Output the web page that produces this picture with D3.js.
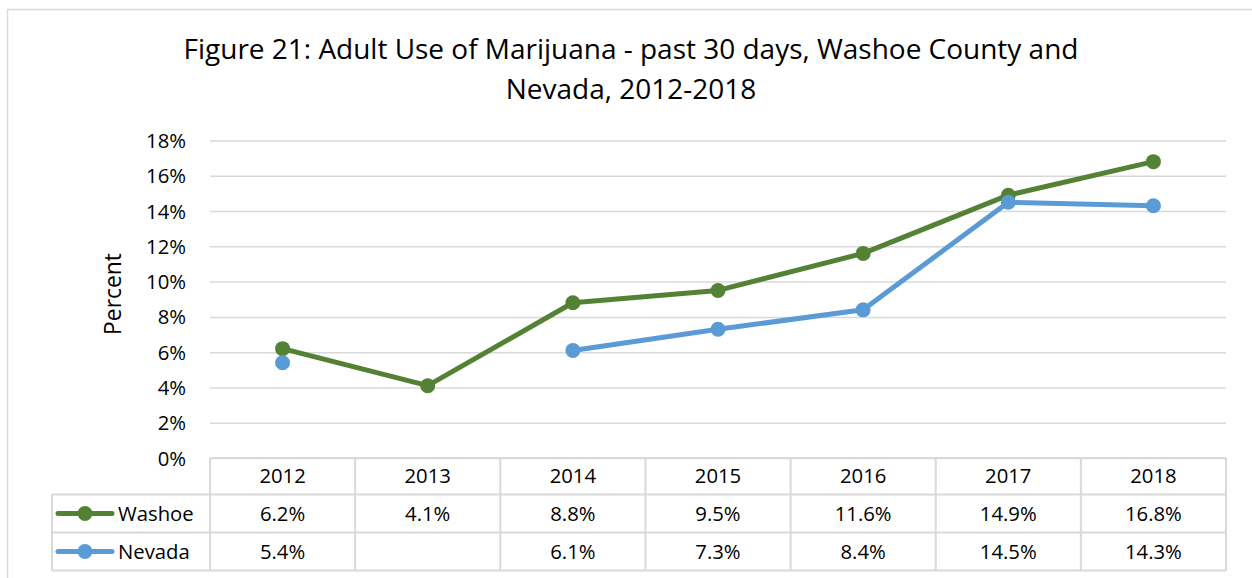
<!DOCTYPE html>
<html><head><meta charset="utf-8">
<script src="https://cdn.jsdelivr.net/npm/d3@7/dist/d3.min.js"></script>
<style>body{margin:0;background:#fff}svg{display:block}</style>
</head><body><svg id="c" width="1252" height="578"></svg>
<script>
const years = ["2012","2013","2014","2015","2016","2017","2018"];
const washoe = [6.2, 4.1, 8.8, 9.5, 11.6, 14.9, 16.8];
const nevada = [5.4, null, 6.1, 7.3, 8.4, 14.5, 14.3];
const yTicks = [0,2,4,6,8,10,12,14,16,18];
const seriesNames = ["Washoe","Nevada"];
const colors = ["#548235","#5B9BD5"];
const titleLines = ["Figure 21: Adult Use of Marijuana - past 30 days, Washoe County and","Nevada, 2012-2018"];

const svg = d3.select("#c");
const font = "'Open Sans', sans-serif";
const fs = 20.3;
const L = 210, R = 1226, T = 140.5, B = 458;
const x = d3.scaleBand().domain(years).range([L, R]);
const y = d3.scaleLinear().domain([0,18]).range([B, T]);

function fit(sel, target, base){
  const w = sel.node().getComputedTextLength();
  sel.attr("font-size", base*target/w);
}

// chart border
svg.append("rect").attr("x",7.5).attr("y",9.5).attr("width",1260).attr("height",600)
  .attr("fill","none").attr("stroke","#d9d9d9").attr("stroke-width",1.5);

// title
const tt = svg.append("g").selectAll("text").data(titleLines).join("text")
  .attr("x",631).attr("y",(d,i)=>59+i*40).attr("text-anchor","middle")
  .attr("font-family",font).attr("font-size",28).attr("fill","#000").text(d=>d);
const t0 = d3.select(tt.nodes()[0]);
const w0 = t0.node().getComputedTextLength();
tt.attr("font-size", 28*895/w0);

// gridlines
const yAxis = d3.axisLeft(y).tickValues(yTicks).tickSize(-(R-L)).tickFormat(d=>d+"%");
const gy = svg.append("g").attr("transform",`translate(${L},0)`).call(yAxis);
gy.select(".domain").remove();
gy.selectAll(".tick line").attr("stroke","#d9d9d9").attr("stroke-width",1.5);
gy.selectAll(".tick text").attr("x",-24).attr("dy","0.35em").attr("font-family",font).attr("font-size",fs).attr("fill","#000");

// y label
const yl = svg.append("text").attr("transform","translate(121,294) rotate(-90)").attr("text-anchor","middle")
  .attr("font-family",font).attr("font-size",22).attr("fill","#000").text("Percent");
fit(yl, 82, 22);

// lines
const data = [washoe, nevada];
data.forEach((vals,si)=>{
  const line = d3.line().defined(d=>d!=null).x((d,i)=>x(years[i])+x.bandwidth()/2).y(d=>y(d));
  svg.append("path").datum(vals).attr("d",line).attr("fill","none")
    .attr("stroke",colors[si]).attr("stroke-width",5).attr("stroke-linejoin","round");
  svg.append("g").selectAll("circle").data(vals.map((v,i)=>({v,i})).filter(d=>d.v!=null)).join("circle")
    .attr("cx",d=>x(years[d.i])+x.bandwidth()/2).attr("cy",d=>y(d.v)).attr("r",7.5).attr("fill",colors[si]);
});

// data table
const rowH = [458, 494.5, 532.5, 570.5];
const tL = 52;
const g = svg.append("g");
const gridC = "#d9d9d9";
g.append("line").attr("x1",L).attr("x2",R).attr("y1",rowH[0]).attr("y2",rowH[0]).attr("stroke",gridC).attr("stroke-width",2);
[1,2,3].forEach(k=>g.append("line").attr("x1",tL).attr("x2",R).attr("y1",rowH[k]).attr("y2",rowH[k]).attr("stroke",gridC).attr("stroke-width",2));
g.append("line").attr("x1",tL).attr("x2",tL).attr("y1",rowH[1]).attr("y2",rowH[3]).attr("stroke",gridC).attr("stroke-width",2);
years.forEach(yr=>g.append("line").attr("x1",x(yr)).attr("x2",x(yr)).attr("y1",rowH[0]).attr("y2",rowH[3]).attr("stroke",gridC).attr("stroke-width",2));
g.append("line").attr("x1",R).attr("x2",R).attr("y1",rowH[0]).attr("y2",rowH[3]).attr("stroke",gridC).attr("stroke-width",2);
g.selectAll("text.h").data(years).join("text").attr("class","h")
  .attr("x",d=>x(d)+x.bandwidth()/2).attr("y",(rowH[0]+rowH[1])/2+7).attr("text-anchor","middle")
  .attr("font-family",font).attr("font-size",fs).attr("fill","#000").text(d=>d);
data.forEach((vals,si)=>{
  const cy = (rowH[si+1]+rowH[si+2])/2;
  g.append("line").attr("x1",58).attr("x2",112).attr("y1",cy).attr("y2",cy).attr("stroke",colors[si]).attr("stroke-width",5).attr("stroke-linecap","round");
  g.append("circle").attr("cx",85).attr("cy",cy).attr("r",7.5).attr("fill",colors[si]);
  g.append("text").attr("x",118).attr("y",cy+7).attr("font-family",font).attr("font-size",fs).attr("fill","#000").text(seriesNames[si]);
  g.selectAll(null).data(vals.map((v,i)=>({v,i})).filter(d=>d.v!=null)).join("text")
    .attr("x",d=>x(years[d.i])+x.bandwidth()/2).attr("y",cy+7).attr("text-anchor","middle")
    .attr("font-family",font).attr("font-size",fs).attr("fill","#000").text(d=>d.v.toFixed(1)+"%");
});
</script></body></html>
